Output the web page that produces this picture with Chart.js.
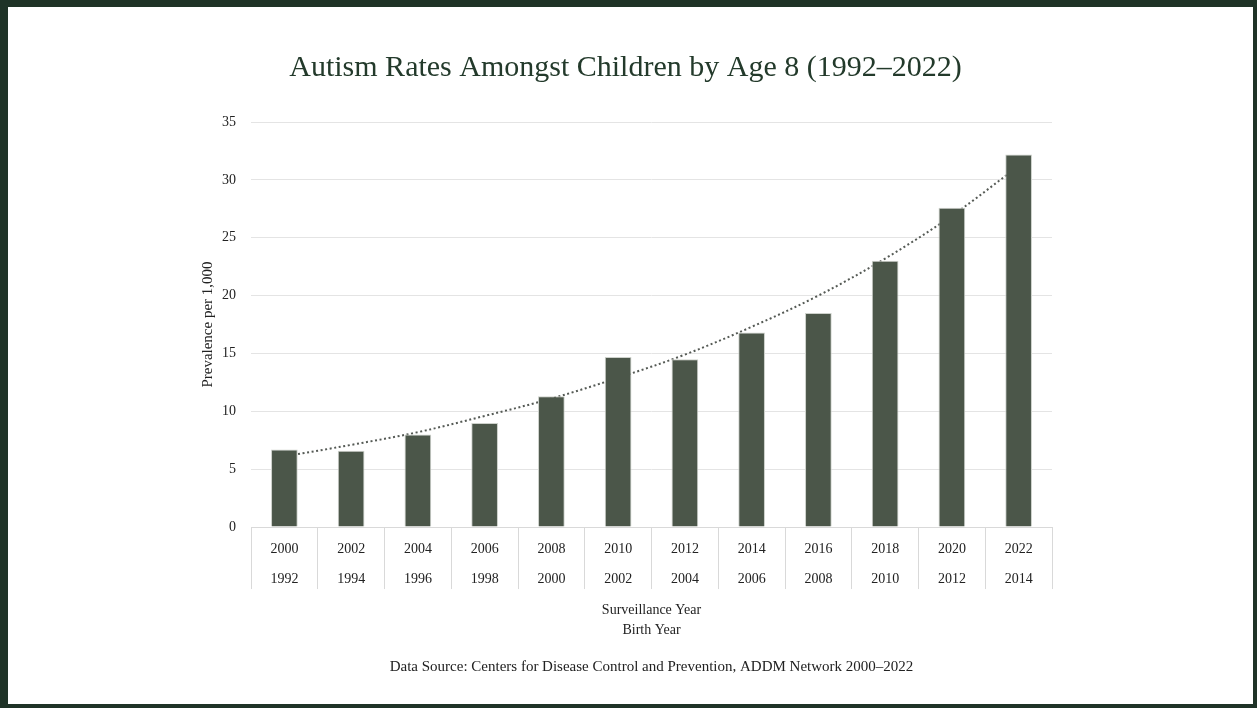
<!DOCTYPE html>
<html>
<head>
<meta charset="utf-8">
<script src="https://cdn.jsdelivr.net/npm/chart.js@4/dist/chart.umd.min.js"></script>
<style>
  html, body { margin: 0; padding: 0; background: #fff; }
  .frame {
    box-sizing: border-box;
    width: 1257px;
    height: 708px;
    border-style: solid;
    border-color: #1f3327;
    border-width: 7px 4px 4px 8px;
    background: #fff;
  }
  .wrap { position: relative; width: 1245px; height: 697px; }
</style>
</head>
<body>
<div class="frame"><div class="wrap"><canvas id="autismChart"></canvas></div></div>
<script>
const surveillanceYears = ['2000', '2002', '2004', '2006', '2008', '2010', '2012', '2014', '2016', '2018', '2020', '2022'];
const birthYears = ['1992', '1994', '1996', '1998', '2000', '2002', '2004', '2006', '2008', '2010', '2012', '2014'];
const prevalence = [6.7, 6.6, 8.0, 9.0, 11.3, 14.7, 14.5, 16.8, 18.5, 23.0, 27.6, 32.2];
// dotted trendline at each category centre
const trendline = [6.1, 7.1, 8.2, 9.6, 11.1, 12.9, 14.9, 17.3, 20.0, 23.2, 26.9, 31.2];
const yMin = 0;
const yMax = 35;
const yStep = 5;

const serif = 'Liberation Serif, Times New Roman, serif';
const ink = '#222222';
const barColor = '#4b5649';

new Chart(document.getElementById('autismChart'), {
  type: 'bar',
  data: {
    labels: surveillanceYears.map((s, i) => [s, birthYears[i]]),
    datasets: [
      {
        label: 'Prevalence per 1,000',
        data: prevalence,
        backgroundColor: barColor,
        borderColor: '#cdd1cb',
        borderWidth: 1,
        categoryPercentage: 1,
        barPercentage: 0.4,
        order: 1,
      },
      {
        type: 'line',
        label: 'Trend',
        data: trendline,
        borderColor: '#555a55',
        borderWidth: 2,
        borderDash: [2, 2.6],
        pointRadius: 0,
        tension: 0.35,
        fill: false,
        order: 2,
      },
    ],
  },
  options: {
    responsive: true,
    maintainAspectRatio: false,
    animation: false,
    layout: { padding: { left: 191, right: 201, top: 0, bottom: 0 } },
    plugins: {
      legend: { display: false },
      tooltip: { enabled: false },
      title: {
        display: true,
        text: 'Autism Rates Amongst Children by Age 8 (1992–2022)',
        color: '#233a2b',
        font: { family: serif, size: 30, weight: 'normal' },
        padding: { top: 43, bottom: 36 },
      },
      subtitle: {
        display: true,
        position: 'bottom',
        fullSize: false,
        text: 'Data Source: Centers for Disease Control and Prevention, ADDM Network 2000–2022',
        color: ink,
        font: { family: serif, size: 15, weight: 'normal' },
        padding: { top: 18, bottom: 28 },
      },
    },
    scales: {
      x: {
        grid: {
          offset: true,
          drawOnChartArea: false,
          drawTicks: true,
          tickLength: 62,
          color: '#d9d9d9',
        },
        border: { color: '#d9d9d9' },
        ticks: {
          color: ink,
          font: { family: serif, size: 14, lineHeight: 2.14 },
          padding: -55,
          maxRotation: 0,
          autoSkip: false,
        },
        title: {
          display: true,
          text: ['Surveillance Year', 'Birth Year'],
          color: ink,
          font: { family: serif, size: 14, lineHeight: 1.43 },
          padding: { top: 61, bottom: 0 },
        },
      },
      y: {
        min: yMin,
        max: yMax,
        ticks: {
          stepSize: yStep,
          color: ink,
          font: { family: serif, size: 14 },
          padding: 15,
        },
        grid: { color: '#e4e4e4', drawTicks: false },
        border: { display: false },
        title: {
          display: true,
          text: 'Prevalence per 1,000',
          color: ink,
          font: { family: serif, size: 15 },
          padding: { top: 0, bottom: -10 },
        },
      },
    },
  },
});
</script>
</body>
</html>
